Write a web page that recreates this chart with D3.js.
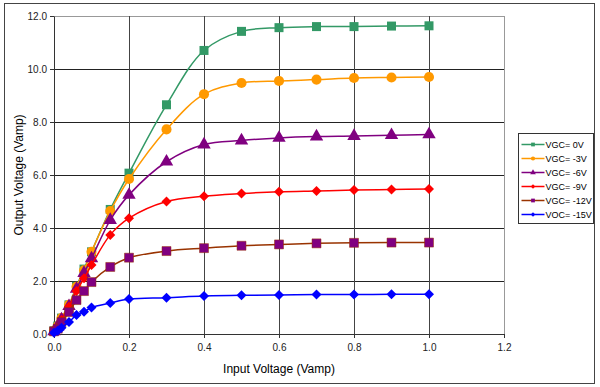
<!DOCTYPE html>
<html>
<head>
<meta charset="utf-8">
<script src="https://cdn.jsdelivr.net/npm/d3@7"></script>
<style>
  body { margin: 0; background: #fff; }
  text { font-family: "Liberation Sans", Arial, sans-serif; }
</style>
</head>
<body>
<div id="chart-area"></div>
<script>
// input voltage steps
var inputV = [0, 0.01, 0.02, 0.04, 0.06, 0.08, 0.1, 0.15, 0.2, 0.3, 0.4, 0.5, 0.6, 0.7, 0.8, 0.9, 1.0];

var vgc0   = [0.12, 0.3, 0.6, 1.1, 1.8, 2.45, 3.1, 4.7, 6.07, 8.65, 10.7, 11.42, 11.56, 11.6, 11.6, 11.62, 11.63];
var vgc3   = [0.12, 0.3, 0.6, 1.1, 1.78, 2.4, 3.1, 4.64, 5.85, 7.72, 9.05, 9.47, 9.55, 9.6, 9.66, 9.68, 9.7];
var vgc6   = [0.1, 0.28, 0.55, 1.05, 1.7, 2.3, 2.85, 4.3, 5.25, 6.5, 7.15, 7.3, 7.4, 7.45, 7.47, 7.5, 7.53];
var vgc9   = [0.1, 0.25, 0.53, 1.03, 1.62, 2.1, 2.6, 3.74, 4.37, 5.0, 5.2, 5.3, 5.37, 5.4, 5.43, 5.45, 5.47];
var vgc12  = [0.1, 0.2, 0.45, 0.83, 1.28, 1.62, 1.96, 2.53, 2.88, 3.13, 3.24, 3.33, 3.38, 3.42, 3.44, 3.45, 3.45];
var vgc15  = [0.05, 0.12, 0.24, 0.45, 0.72, 0.84, 1.0, 1.17, 1.32, 1.37, 1.43, 1.46, 1.47, 1.49, 1.49, 1.5, 1.5];

var seriesNames = ["VGC= 0V", "VGC= -3V", "VGC= -6V", "VGC= -9V", "VGC= -12V", "VOC= -15V"];
var seriesValues = [vgc0, vgc3, vgc6, vgc9, vgc12, vgc15];
var lineColors = ["#339966", "#FF9900", "#800080", "#FF0000", "#993300", "#0000FF"];
var markerColors = ["#339966", "#FF9900", "#800080", "#FF0000", "#800080", "#0000FF"];
var markerShapes = ["square", "circle", "triangle", "diamond", "square", "diamond"];

var xTicks = [0, 0.2, 0.4, 0.6, 0.8, 1.0, 1.2];
var yTicks = [0, 2, 4, 6, 8, 10, 12];

var svgW = 600, svgH = 387;
var margin = { left: 54, right: 96, top: 16, bottom: 53 };
var width = svgW - margin.left - margin.right;
var height = svgH - margin.top - margin.bottom;

var svg = d3.select("#chart-area")
    .append("svg")
        .attr("width", svgW)
        .attr("height", svgH);

svg.append("rect")
    .attr("x", 4.5).attr("y", 3.5)
    .attr("width", 590).attr("height", 380)
    .attr("fill", "#fff")
    .attr("stroke", "#444");

var g = svg.append("g")
    .attr("transform", "translate(" + margin.left + "," + margin.top + ")");

var x = d3.scaleLinear().domain([0, 1.2]).range([0, width]);
var y = d3.scaleLinear().domain([0, 12]).range([height, 0]);

// plot area border
g.append("rect")
    .attr("x", 0.5).attr("y", 0.5)
    .attr("width", width).attr("height", height)
    .attr("fill", "none")
    .attr("stroke", "#999");

// gridlines
g.selectAll(".hgrid")
    .data(yTicks.filter(function(d){ return d > 0 && d < 12; }))
    .enter().append("line")
        .attr("x1", 0).attr("x2", width)
        .attr("y1", function(d){ return Math.round(y(d)) + 0.5; })
        .attr("y2", function(d){ return Math.round(y(d)) + 0.5; })
        .attr("stroke", "#222");

g.selectAll(".vgrid")
    .data(xTicks.filter(function(d){ return d > 0 && d < 1.2; }))
    .enter().append("line")
        .attr("y1", 0).attr("y2", height)
        .attr("x1", function(d){ return Math.round(x(d)) + 0.5; })
        .attr("x2", function(d){ return Math.round(x(d)) + 0.5; })
        .attr("stroke", "#444");

// axes
var xAxis = d3.axisBottom(x).tickValues(xTicks).tickFormat(d3.format(".1f")).tickSizeInner(4).tickSizeOuter(0).tickPadding(6);
var yAxis = d3.axisLeft(y).tickValues(yTicks).tickFormat(d3.format(".1f")).tickSizeInner(4).tickSizeOuter(0).tickPadding(3);

var gx = g.append("g")
    .attr("transform", "translate(0," + height + ")")
    .call(xAxis);
var gy = g.append("g").call(yAxis);

[gx, gy].forEach(function(a){
    a.select(".domain").attr("stroke", "#333");
    a.selectAll(".tick line").attr("stroke", "#333");
    a.selectAll(".tick text")
        .attr("fill", "#222")
        .style("font-family", "'Liberation Sans', Arial, sans-serif")
        .style("font-size", "10px");
});

// axis titles
g.append("text")
    .attr("x", width / 2)
    .attr("y", height + 39)
    .attr("text-anchor", "middle")
    .style("font-size", "12px")
    .attr("fill", "#000")
    .text("Input Voltage (Vamp)");

g.append("text")
    .attr("transform", "rotate(-90)")
    .attr("x", -height / 2)
    .attr("y", -31)
    .attr("text-anchor", "middle")
    .style("font-size", "12px")
    .attr("fill", "#000")
    .text("Output Voltage (Vamp)");

function symbolFor(shape) {
    if (shape === "square") return d3.symbolSquare;
    if (shape === "circle") return d3.symbolCircle;
    if (shape === "triangle") return d3.symbolTriangle;
    return d3.symbolSquare; // diamond = rotated square
}
function markerSize(shape) {
    if (shape === "square") return 81;
    if (shape === "circle") return 80;
    if (shape === "triangle") return 78;
    return 50;
}

var line = d3.line()
    .x(function(d){ return x(d[0]); })
    .y(function(d){ return y(d[1]); })
    .curve(d3.curveCatmullRom.alpha(0.5));

seriesValues.forEach(function(vals, i){
    var pts = inputV.map(function(v, j){ return [v, vals[j]]; });
    var shape = markerShapes[i];
    var sg = g.append("g");
    sg.append("path")
        .datum(pts)
        .attr("d", line)
        .attr("fill", "none")
        .attr("stroke", lineColors[i])
        .attr("stroke-width", 1.5);
    sg.selectAll("path.mk")
        .data(pts)
        .enter().append("path")
            .attr("class", "mk")
            .attr("d", d3.symbol().type(symbolFor(shape)).size(markerSize(shape))())
            .attr("transform", function(d){
                return "translate(" + x(d[0]) + "," + y(d[1]) + ")" + (shape === "diamond" ? " rotate(45)" : "");
            })
            .attr("fill", markerColors[i])
            .attr("stroke", i === 4 ? "#993300" : "none")
            .attr("stroke-width", 0.5);
});

// legend
var legend = svg.append("g").attr("transform", "translate(518.5,133.5)");
legend.append("rect")
    .attr("width", 75).attr("height", 90)
    .attr("fill", "#fff")
    .attr("stroke", "#333");

var items = legend.selectAll(".item")
    .data(seriesNames)
    .enter().append("g")
        .attr("transform", function(d, i){ return "translate(0," + (11 + i * 14) + ")"; });

items.append("line")
    .attr("x1", 3).attr("x2", 26)
    .attr("stroke", function(d, i){ return lineColors[i]; })
    .attr("stroke-width", 1.5);

items.append("path")
    .attr("d", function(d, i){
        return d3.symbol().type(symbolFor(markerShapes[i])).size(markerShapes[i] === "diamond" ? 10 : 14)();
    })
    .attr("transform", function(d, i){ return "translate(14.5,0)" + (markerShapes[i] === "diamond" ? " rotate(45)" : ""); })
    .attr("fill", function(d, i){ return markerColors[i]; });

items.append("text")
    .attr("x", 27)
    .attr("y", 3.5)
    .style("font-size", "9px")
    .attr("fill", "#000")
    .text(function(d){ return d; });
</script>
</body>
</html>
